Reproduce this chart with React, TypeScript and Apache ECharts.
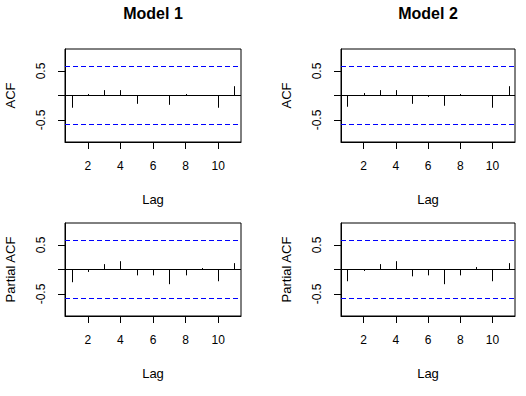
import React, { useEffect, useRef } from "react";
import * as echarts from "echarts";

const LAGS = [1, 2, 3, 4, 5, 6, 7, 8, 9, 10, 11];
const ACF_MODEL1 = [-0.25, 0.03, 0.11, 0.11, -0.17, -0.01, -0.19, 0.03, 0.005, -0.25, 0.19];
const ACF_MODEL2 = [-0.23, 0.05, 0.11, 0.11, -0.17, -0.03, -0.21, 0.03, 0.0, -0.25, 0.19];
const PACF_MODEL1 = [-0.26, -0.05, 0.11, 0.17, -0.12, -0.12, -0.3, -0.12, 0.03, -0.24, 0.13];
const PACF_MODEL2 = [-0.24, -0.03, 0.11, 0.17, -0.14, -0.12, -0.3, -0.12, 0.05, -0.24, 0.13];
const CONF = 0.59;
const TITLES = ["Model 1", "Model 2"];
const X_TICKS = [2, 4, 6, 8, 10];
const Y_TICKS = [-0.5, 0, 0.5];
const Y_LABELS = [-0.5, 0.5];

const FONT = '"Liberation Sans", Arial, sans-serif';

export default function App() {
  const ref = useRef<HTMLDivElement>(null);
  useEffect(() => {
    if (!ref.current) return;
    const chart = echarts.init(ref.current, null, { renderer: "svg" });
    const panels = [
      { data: ACF_MODEL1, name: "ACF", left: 65, top: 49, width: 176 },
      { data: ACF_MODEL2, name: "ACF", left: 341, top: 49, width: 174 },
      { data: PACF_MODEL1, name: "Partial ACF", left: 65, top: 223, width: 176 },
      { data: PACF_MODEL2, name: "Partial ACF", left: 341, top: 223, width: 174 },
    ];
    const grid = panels.map((p) => ({
      left: p.left,
      top: p.top,
      width: p.width,
      height: 93,
      show: true,
      borderColor: "#000",
      borderWidth: 1,
      backgroundColor: "transparent",
    }));
    const xAxis = panels.map((p, i) => ({
      type: "value",
      gridIndex: i,
      min: 0.6,
      max: 11.4,
      name: "Lag",
      nameLocation: "middle",
      nameGap: 51,
      nameTextStyle: { fontFamily: FONT, fontSize: 13, color: "#000" },
      splitLine: { show: false },
      axisLine: { show: true, onZero: false, lineStyle: { color: "#000", width: 1 } },
      axisTick: { show: true, length: 7, inside: false, customValues: X_TICKS, lineStyle: { color: "#000" } },
      axisLabel: {
        customValues: X_TICKS,
        margin: 18,
        fontFamily: FONT,
        fontSize: 12,
        color: "#000",
      },
    }));
    const yAxis = panels.map((p, i) => ({
      type: "value",
      gridIndex: i,
      min: -0.95,
      max: 0.95,
      name: p.name,
      nameLocation: "middle",
      nameGap: 48,
      nameRotate: 90,
      nameTextStyle: { fontFamily: FONT, fontSize: 13, color: "#000" },
      splitLine: { show: false },
      axisLine: { show: true, lineStyle: { color: "#000", width: 1 } },
      axisTick: { show: true, length: 7, inside: false, customValues: Y_TICKS, lineStyle: { color: "#000" } },
      axisLabel: {
        customValues: Y_LABELS,
        rotate: 90,
        margin: 18,
        fontFamily: FONT,
        fontSize: 12,
        color: "#000",
        formatter: (v: number) => String(v),
      },
    }));
    const series = panels.map((p, i) => ({
      type: "custom",
      xAxisIndex: i,
      yAxisIndex: i,
      data: LAGS.map((l, j) => [l, p.data[j]]),
      renderItem: (params: any, api: any) => {
        const x = api.value(0);
        const y = api.value(1);
        const p0 = api.coord([x, 0]);
        const p1 = api.coord([x, y]);
        const px = Math.round(p0[0]) + 0.5;
        return {
          type: "line",
          shape: { x1: px, y1: p0[1], x2: px, y2: p1[1] },
          style: { stroke: "#000", lineWidth: 1 },
        };
      },
      markLine: {
        silent: true,
        symbol: "none",
        label: { show: false },
        data: [
          { yAxis: 0, lineStyle: { color: "#000", type: "solid", width: 1 } },
          { yAxis: CONF, lineStyle: { color: "#0000ff", type: [5, 3], width: 1 } },
          { yAxis: -CONF, lineStyle: { color: "#0000ff", type: [5, 3], width: 1 } },
        ],
      },
    }));
    chart.setOption({
      animation: false,
      backgroundColor: "#fff",
      title: [
        {
          text: TITLES[0],
          left: 153,
          top: 5,
          padding: 0,
          textAlign: "center",
          textStyle: { fontFamily: FONT, fontSize: 16, fontWeight: "bold", color: "#000" },
        },
        {
          text: TITLES[1],
          left: 428,
          top: 5,
          padding: 0,
          textAlign: "center",
          textStyle: { fontFamily: FONT, fontSize: 16, fontWeight: "bold", color: "#000" },
        },
      ],
      grid,
      xAxis,
      yAxis,
      series,
    });
    return () => chart.dispose();
  }, []);
  return (
    <div
      ref={ref}
      style={{ position: "absolute", left: 0, top: 0, width: 526, height: 396 }}
    />
  );
}
